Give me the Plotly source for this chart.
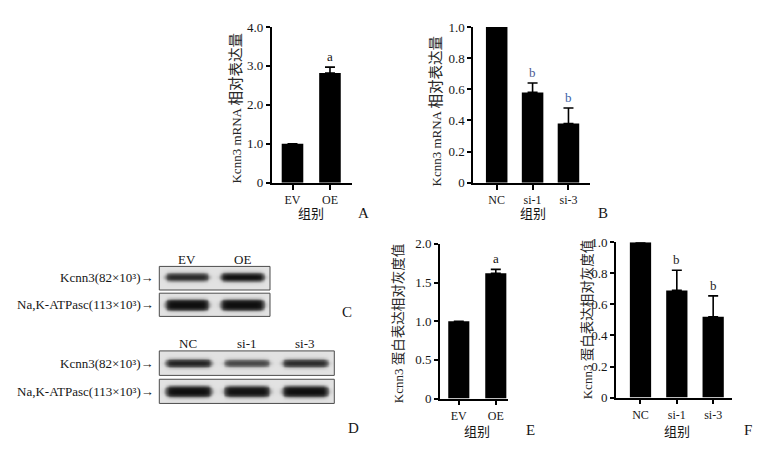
import numpy as np
import plotly.graph_objects as go

W, H = 783, 453

# ---------------- data ----------------
A_groups = ["EV", "OE"]
A_vals = [1.0, 2.82]
A_err = [0.0, 0.15]
A_sig = ["", "a"]
A_ticks = [0, 1.0, 2.0, 3.0, 4.0]
A_ticktext = ["0", "1.0", "2.0", "3.0", "4.0"]

B_groups = ["NC", "si-1", "si-3"]
B_vals = [1.0, 0.58, 0.38]
B_err = [0.0, 0.06, 0.10]
B_sig = ["", "b", "b"]
B_ticks = [0, 0.2, 0.4, 0.6, 0.8, 1.0]
B_ticktext = ["0", "0.2", "0.4", "0.6", "0.8", "1.0"]

E_groups = ["EV", "OE"]
E_vals = [1.0, 1.62]
E_err = [0.0, 0.05]
E_sig = ["", "a"]
E_ticks = [0, 0.5, 1.0, 1.5, 2.0]
E_ticktext = ["0", "0.5", "1.0", "1.5", "2.0"]

F_groups = ["NC", "si-1", "si-3"]
F_vals = [1.0, 0.69, 0.52]
F_err = [0.0, 0.13, 0.135]
F_sig = ["", "b", "b"]
F_ticks = [0, 0.2, 0.4, 0.6, 0.8, 1.0]
F_ticktext = ["0", "0.2", "0.4", "0.6", "0.8", "1.0"]

# western blot band intensities (relative)
C_lanes = ["EV", "OE"]
C_kcnn3 = [0.85, 1.0]
C_nak = [1.0, 1.0]
D_lanes = ["NC", "si-1", "si-3"]
D_kcnn3 = [0.90, 0.68, 0.85]
D_nak = [1.0, 0.98, 1.0]

# ---------------- styling ----------------
SERIF = "Liberation Serif, Noto Sans CJK SC, serif"
TXT = "#161616"


def dx(a, b):
    return [a / W, b / W]


def dy(top, bottom):
    return [1 - bottom / H, 1 - top / H]


def px(x):
    return x / W


def py(y):
    return 1 - y / H


fig = go.Figure()
annotations = []
shapes = []

bar_panels = [
    ("", A_groups, A_vals, A_err, A_sig, A_ticks, A_ticktext, dx(271.7, 351.7), dy(20.7, 181.7),
     [-0.555, 1.58], [0, 4.0], 0.576, ("Kcnn3 mRNA ", "相对表达量", 14.5), (236, 105), ["#111", "#111"]),
    ("2", B_groups, B_vals, B_err, B_sig, B_ticks, B_ticktext, dx(473.3, 590), dy(20.7, 181.7),
     [-0.652, 2.6], [0, 1.0], 0.6, ("Kcnn3 mRNA ", "相对表达量", 14.5), (436, 107), ["#111", "#4a5a94", "#3a62a8"]),
    ("3", E_groups, E_vals, E_err, E_sig, E_ticks, E_ticktext, dx(440, 508), dy(245, 405),
     [-0.508, 1.33], [0, 2.0], 0.57, ("Kcnn3 ", "蛋白表达相对灰度值", 13.5), (398, 328), ["#111", "#111"]),
    ("4", F_groups, F_vals, F_err, F_sig, F_ticks, F_ticktext, dx(616, 731.7), dy(243.3, 404),
     [-0.674, 2.51], [0, 1.0], 0.585, ("Kcnn3 ", "蛋白表达相对灰度值", 13.5), (587, 324), ["#111", "#222", "#222"]),
]

layout_axes = {}
for (n, groups, vals, err, sig, ticks, ttext, xdom, ydom, xr, yr, bw, title, txy, sigc) in bar_panels:
    xs = list(range(len(groups)))
    fig.add_trace(go.Bar(
        x=xs, y=vals, width=bw, marker=dict(color="black", line=dict(width=0)),
        error_y=dict(type="data", array=err, arrayminus=[0] * len(err), symmetric=False,
                     color="black", thickness=1.6, width=5),
        xaxis="x" + n, yaxis="y" + n, showlegend=False, hoverinfo="skip"))
    layout_axes["xaxis" + n] = dict(
        domain=xdom, range=xr, anchor="y" + n, showgrid=False, zeroline=False,
        showline=True, linecolor="black", linewidth=1.7, ticks="outside", ticklen=5,
        tickwidth=1.5, tickcolor="black", tickvals=xs, ticktext=groups,
        tickfont=dict(family=SERIF, size=12, color=TXT), fixedrange=True)
    layout_axes["yaxis" + n] = dict(
        domain=ydom, range=yr, anchor="x" + n, showgrid=False, zeroline=False,
        showline=True, linecolor="black", linewidth=1.7, ticks="outside", ticklen=4,
        tickwidth=1.5, tickcolor="black", tickvals=ticks, ticktext=ttext,
        tickfont=dict(family=SERIF, size=13, color=TXT), fixedrange=True)
    for i, s in enumerate(sig):
        if s:
            annotations.append(dict(
                x=xs[i], y=vals[i] + err[i], xref="x" + n, yref="y" + n, text=s,
                showarrow=False, yanchor="bottom", yshift=1,
                font=dict(family=SERIF, size=13, color=sigc[i])))
    lat, cjk, cs = title
    annotations.append(dict(
        x=px(txy[0]), y=py(txy[1]), xref="paper", yref="paper",
        text=lat + '<span style="font-size:%spx">%s</span>' % (cs, cjk),
        textangle=-90, showarrow=False, xanchor="center", yanchor="middle",
        font=dict(family=SERIF, size=13, color="#262626")))


# ---------------- western blots ----------------
def strip_z(intens, half_thick, nl, ycen=0.5):
    nx, ny = 70 * nl, 40
    xs = (np.arange(nx) + 0.5) / nx * nl
    ys = (np.arange(ny) + 0.5) / ny
    z = np.zeros((ny, nx))
    for i, I in enumerate(intens):
        cx = i + 0.5
        hw = 0.38
        pxv = 1 / (1 + np.exp((np.abs(xs - cx) - hw) / 0.025))
        taper = np.clip(1 - ((xs - cx) / (hw + 0.03)) ** 8, 0, 1) ** 0.5
        h = half_thick * (0.55 + 0.45 * I) * (0.55 + 0.45 * taper)
        pyv = 1 / (1 + np.exp((np.abs(ys[:, None] - ycen) - h[None, :]) / 0.04))
        z += I * pyv * pxv[None, :]
    return xs, ys, np.clip(z, 0, 1)


strips = [
    ("5", C_kcnn3, 0.16, dx(159.3, 270), dy(268.3, 292.7), 0.55),
    ("6", C_nak, 0.22, dx(159.3, 270), dy(296, 320), 0.5),
    ("7", D_kcnn3, 0.15, dx(159.3, 334.3), dy(355.7, 381), 0.5),
    ("8", D_nak, 0.21, dx(159.3, 334.3), dy(385, 410), 0.5),
]
for (n, intens, ht, xdom, ydom, yc) in strips:
    nl = len(intens)
    xs, ys, z = strip_z(intens, ht, nl, yc)
    fig.add_trace(go.Heatmap(
        x=xs, y=ys, z=z, zmin=0, zmax=1, zsmooth="best", showscale=False,
        colorscale=[[0, "#e2e2e2"], [0.45, "#6a6a6a"], [1, "#0e0e0e"]],
        xaxis="x" + n, yaxis="y" + n, hoverinfo="skip"))
    layout_axes["xaxis" + n] = dict(domain=xdom, range=[0, nl], anchor="y" + n,
                                    showgrid=False, zeroline=False, showticklabels=False,
                                    ticks="", showline=False, fixedrange=True)
    layout_axes["yaxis" + n] = dict(domain=ydom, range=[0, 1], anchor="x" + n,
                                    showgrid=False, zeroline=False, showticklabels=False,
                                    ticks="", showline=False, fixedrange=True)
    shapes.append(dict(type="rect", xref="x" + n + " domain", yref="y" + n + " domain",
                       x0=0, x1=1, y0=0, y1=1, line=dict(color="#4a4a4a", width=1),
                       layer="above"))

# lane labels
for lbls, y, xdom in [(C_lanes, 261, (159.3, 270)), (D_lanes, 347.7, (159.3, 334.3))]:
    lw = (xdom[1] - xdom[0]) / len(lbls)
    for i, l in enumerate(lbls):
        annotations.append(dict(x=px(xdom[0] + lw * (i + 0.5)), y=py(y), xref="paper", yref="paper",
                                text=l, showarrow=False, xanchor="center", yanchor="middle",
                                font=dict(family=SERIF, size=13, color=TXT)))

row_labels = [("Kcnn3(82×10³)→", 279.5), ("Na,K-ATPasc(113×10³)→", 307.7),
              ("Kcnn3(82×10³)→", 368.5), ("Na,K-ATPasc(113×10³)→", 397.7)]
for t, y in row_labels:
    annotations.append(dict(x=px(156), y=py(y), xref="paper", yref="paper", text=t,
                            showarrow=False, xanchor="right", yanchor="middle",
                            font=dict(family=SERIF, size=13, color=TXT)))

# group axis titles and panel letters
for t, x, y in [("组别", 310.7, 214), ("组别", 533, 214), ("组别", 476.7, 439), ("组别", 676.7, 439)]:
    annotations.append(dict(x=px(x), y=py(y), xref="paper", yref="paper", text=t,
                            showarrow=False, xanchor="center", yanchor="middle",
                            font=dict(family=SERIF, size=13, color=TXT)))
for t, x, y in [("A", 363, 213), ("B", 603, 213), ("C", 347, 315), ("D", 353, 435),
                ("E", 530, 438), ("F", 748, 438)]:
    annotations.append(dict(x=px(x), y=py(y), xref="paper", yref="paper", text=t,
                            showarrow=False, xanchor="center", yanchor="middle",
                            font=dict(family=SERIF, size=15, color=TXT)))

fig.update_layout(
    width=W, height=H, autosize=False,
    margin=dict(l=0, r=0, t=0, b=0),
    paper_bgcolor="white", plot_bgcolor="rgba(0,0,0,0)",
    showlegend=False, annotations=annotations, shapes=shapes,
    **layout_axes)

fig.write_html("out.html", config={"displayModeBar": False},
               post_script="document.body.style.margin='0';document.body.style.overflow='hidden';")
